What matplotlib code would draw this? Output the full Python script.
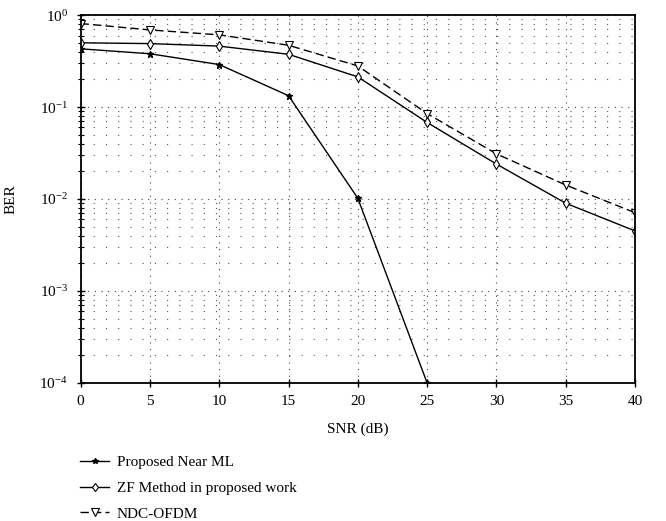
import matplotlib
matplotlib.use('Agg')
from matplotlib import pyplot as plt
from matplotlib.ticker import LogLocator, NullFormatter

plt.rcParams['font.family'] = ['Liberation Serif', 'DejaVu Serif']
plt.rcParams['mathtext.fontset'] = 'stix'

# 数据（从图上读出来的）
snr = [0, 5, 10, 15, 20, 25, 30, 35, 40]
snr_ml = [0, 5, 10, 15, 20, 25]
ber_ml = [0.43, 0.38, 0.29, 0.133, 0.0102, 1e-4]
ber_zf = [0.50, 0.49, 0.46, 0.375, 0.213, 0.068, 0.024, 0.009, 0.0045]
ber_ndc = [0.81, 0.69, 0.61, 0.47, 0.28, 0.085, 0.031, 0.0142, 0.0071]

fig = plt.figure(figsize=(6.66, 5.21), dpi=100)
ax = fig.add_axes([0.121, 0.265, 0.8325, 0.706])

ax.semilogy(snr_ml, ber_ml, color='black', lw=1.0, marker='*', ms=5,
            mfc='black', mec='black', label='Proposed Near ML')
ax.semilogy(snr, ber_zf, color='black', lw=1.0, marker='d', ms=5,
            mfc='white', mec='black', mew=0.8, label='ZF Method in proposed work')
ax.semilogy(snr, ber_ndc, color='black', lw=1.0, ls=(0, (6, 3)), marker='v', ms=6,
            mfc='white', mec='black', mew=0.8, label='NDC-OFDM')

ax.set_xlim(0, 40)
ax.set_ylim(1e-4, 1)
ax.set_xticks(range(0, 41, 5))
ax.yaxis.set_major_locator(LogLocator(base=10, numticks=10))
ax.yaxis.set_minor_locator(LogLocator(base=10, subs=range(2, 10), numticks=20))
ax.yaxis.set_minor_formatter(NullFormatter())

ax.grid(True, which='major', axis='x', color='#444444', lw=0.8, ls=(0, (1, 5)))
ax.grid(True, which='major', axis='y', color='#444444', lw=0.8, ls=(0, (1, 5)))
ax.grid(True, which='minor', axis='y', color='#555555', lw=0.8, ls=(0, (1, 10)))

for s in ax.spines.values():
    s.set_linewidth(1.3)
ax.tick_params(which='major', direction='inout', length=6, width=1, labelsize=11, pad=6)
ax.tick_params(which='minor', direction='inout', length=4, width=0.8)

ax.set_xlabel('SNR (dB)', fontsize=11, labelpad=10)
ax.set_ylabel('BER', fontsize=11, labelpad=16)

fig.legend(loc='upper left', bbox_to_anchor=(0.111, 0.137), frameon=False,
           fontsize=11, handlelength=1.9, handletextpad=0.5, labelspacing=0.78,
           markerscale=0.85, borderaxespad=0, bbox_transform=fig.transFigure)

plt.savefig('out.png', dpi=100)
